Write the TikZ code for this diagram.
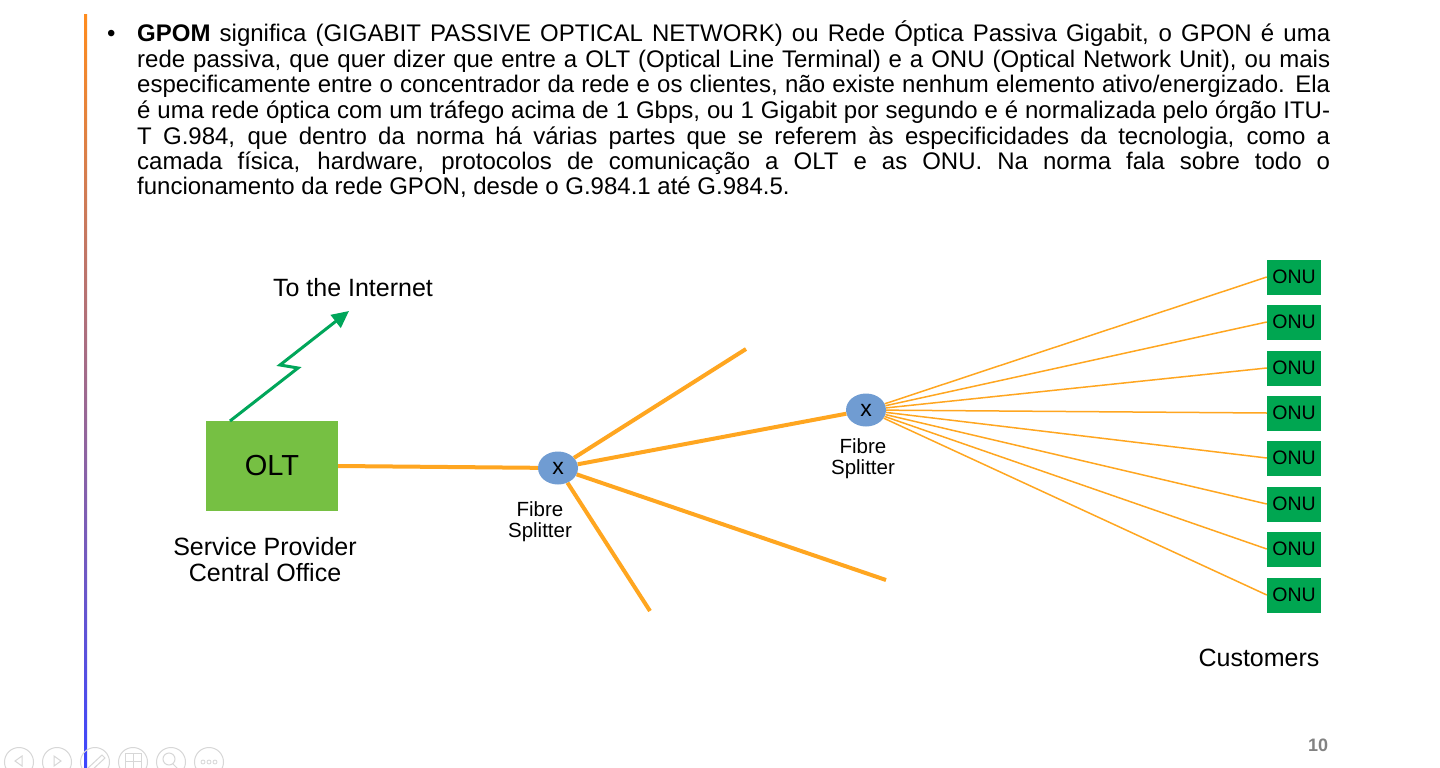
\documentclass[tikz,border=0pt]{standalone}
\usepackage{fontspec}
\setmainfont{Liberation Sans}
\usetikzlibrary{shapes.geometric,arrows.meta}
\definecolor{fibre}{RGB}{255,166,32}
\definecolor{oltgreen}{RGB}{118,192,67}
\definecolor{onugreen}{RGB}{0,166,81}
\definecolor{arrowgreen}{RGB}{0,166,90}
\definecolor{splitblue}{RGB}{112,156,210}
\definecolor{navgray}{RGB}{215,215,215}
\tikzset{
  onubox/.style={fill=onugreen, minimum width=54pt, minimum height=35pt, inner sep=0pt, font=\fontsize{19.5}{19.5}\selectfont},
  splitter/.style={ellipse, fill=splitblue, minimum width=40pt, minimum height=33pt, inner sep=0pt, font=\fontsize{23}{23}\selectfont},
  lbl/.style={align=center, font=\fontsize{20.5}{21}\selectfont},
  biglbl/.style={align=center, font=\fontsize{25}{26}\selectfont},
  bigfibre/.style={draw=fibre, line width=4pt},
  smallfibre/.style={draw=fibre, line width=1.5pt},
  navicon/.style={circle, draw=navgray, line width=1pt, minimum size=29pt, inner sep=0pt},
}
\begin{document}
\begin{tikzpicture}[x=1pt,y=-1pt]
\useasboundingbox (0,0) rectangle (1440,768);
\fill[white] (0,0) rectangle (1440,768);
% gradient bar
\shade[top color={rgb,255:red,255;green,140;blue,30}, middle color={rgb,255:red,225;green,128;blue,180}, bottom color={rgb,255:red,60;green,70;blue,255}] (84,15) rectangle (87,768);
% paragraph
\node[anchor=base west, inner sep=0pt, font=\fontsize{24}{25.5}\selectfont] (bullet) at (107,42) {•};
\node[anchor=base west, inner sep=0pt, text width=1193pt, align=justify, font=\fontsize{24}{25.5}\selectfont] (para) at (137,42) {\textbf{GPOM} significa (GIGABIT PASSIVE OPTICAL NETWORK) ou Rede Óptica Passiva Gigabit, o GPON é uma\linebreak rede passiva, que quer dizer que entre a OLT (Optical Line Terminal) e a ONU (Optical Network Unit), ou mais\linebreak especificamente entre o concentrador da rede e os clientes, não existe nenhum elemento ativo/energizado. Ela\linebreak é uma rede óptica com um tráfego acima de 1 Gbps, ou 1 Gigabit por segundo e é normalizada pelo órgão ITU-\linebreak T G.984, que dentro da norma há várias partes que se referem às especificidades da tecnologia, como a\linebreak camada física, hardware, protocolos de comunicação a OLT e as ONU. Na norma fala sobre todo o\linebreak funcionamento da rede GPON, desde o G.984.1 até G.984.5.};
% OLT
\node[fill=oltgreen, minimum width=132pt, minimum height=90pt, inner sep=0pt, font=\fontsize{29}{29}\selectfont] (olt) at (272,466) {OLT};
\node[biglbl] (office) at (265,560) {Service Provider\\Central Office};
\node[biglbl] (internet) at (353,288) {To the Internet};
% internet arrow
\coordinate (a0) at (230,421);
\coordinate (a1) at (298,368);
\coordinate (a2) at (280,365);
\coordinate (a3) at (349,311);
\draw[arrowgreen, line width=3pt, -{Triangle[length=17pt,width=16pt]}] (a0) -- (a1) -- (a2) -- (a3);
% splitters
\node[splitter] (s1) at (558,468) {x};
\node[splitter] (s2) at (866,410) {x};
\node[lbl] (s1l) at (540,522) {Fibre\\Splitter};
\node[lbl] (s2l) at (863,459) {Fibre\\Splitter};
\coordinate (e1) at (746,349);
\coordinate (e2) at (886,580);
\coordinate (e3) at (650,611);
\draw[bigfibre] (olt.east) -- (s1);
\draw[bigfibre] (s1) -- (e1);
\draw[bigfibre] (s1) -- (s2);
\draw[bigfibre] (s1) -- (e2);
\draw[bigfibre] (s1) -- (e3);
% ONUs
\foreach \i/\y in {1/277,2/322,3/368,4/413,5/458,6/504,7/549,8/595}{
  \node[onubox] (onu\i) at (1294,\y) {ONU};
  \draw[smallfibre] (s2) -- (onu\i.west);
}
\node[biglbl] (cust) at (1259,658) {Customers};
\node[font=\fontsize{18}{18}\selectfont\bfseries, text={rgb,255:red,130;green,130;blue,130}] (page) at (1318,745) {10};
% nav icons
\foreach \i/\x in {1/19,2/57,3/95,4/133,5/171,6/209}{
  \node[navicon] (nav\i) at (\x,762) {};
}
\draw[navgray, line width=1pt] (22,756) -- (15,761) -- (22,766) -- cycle;
\draw[navgray, line width=1pt] (54,756) -- (61,761) -- (54,766) -- cycle;
\draw[navgray, line width=1pt] (88,768) -- (102,755) -- (105,758) -- (91,771);
\draw[navgray, line width=1pt] (125,753) rectangle (141,770) (133,753) -- (133,770) (125,761) -- (141,761);
\draw[navgray, line width=1pt] (169,759) circle (6pt) (173,764) -- (179,770);
\foreach \dx in {-6,0,6}{\draw[navgray, line width=0.8pt] (209+\dx,762) circle (2pt);}
\end{tikzpicture}
\end{document}
